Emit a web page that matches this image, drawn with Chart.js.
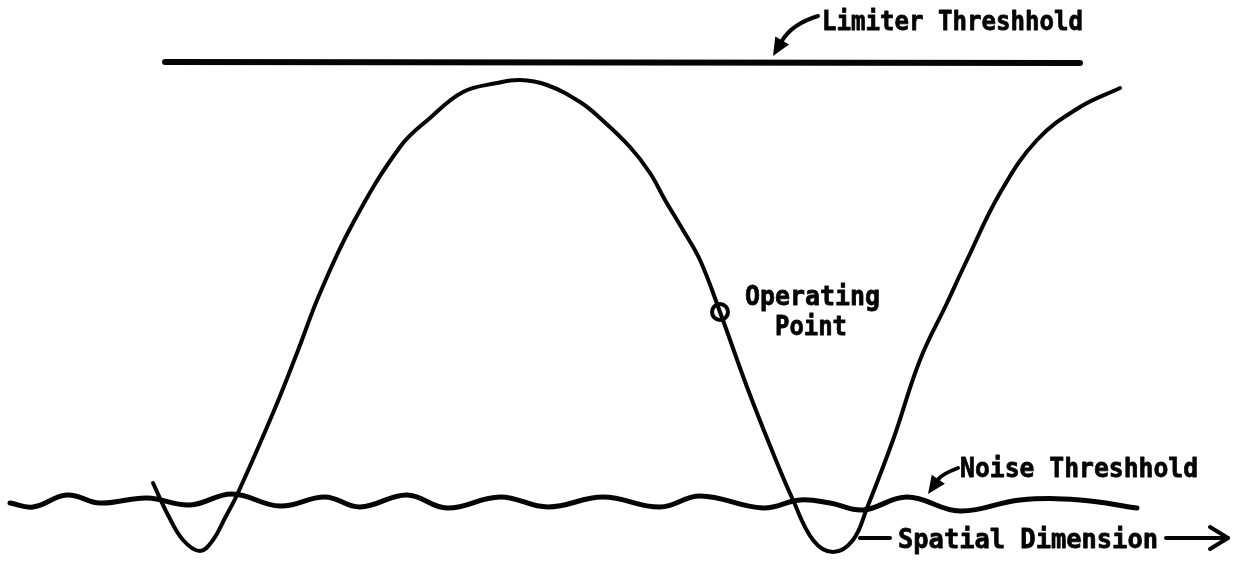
<!DOCTYPE html>
<html>
<head>
<meta charset="utf-8">
<script src="https://cdn.jsdelivr.net/npm/chart.js@4/dist/chart.umd.min.js"></script>
<style>
  html, body { margin: 0; padding: 0; background: #ffffff; }
  #wrap { width: 1240px; height: 561px; position: relative; }
</style>
</head>
<body>
<div id="wrap"><canvas id="c"></canvas></div>
<script>
// Signal response along the spatial dimension (x: spatial position, y: signal level)
const responseX = [15.3, 16.8, 18.3, 20.0, 21.3, 22.5, 23.7, 27.3, 29.7, 32.0, 35.3, 40.0, 43.0, 46.3, 49.7, 52.0,
                   54.7, 58.0, 60.0, 63.0, 65.0, 66.5, 68.3, 70.0, 72.0, 74.7, 77.3, 79.3, 81.3, 83.3, 85.3, 86.7,
                   89.3, 92.0, 94.7, 96.7, 100.0, 103.7, 108.0, 112.0];
const responseY = [1.7, -1.5, -4.0, -5.1, -4.0, -1.8, 0.5, 8.7, 14.7, 20.7, 27.7, 35.3, 38.2, 40.8, 41.7, 42.0,
                   41.5, 39.8, 38.2, 35.3, 32.7, 30.0, 27.0, 24.0, 18.8, 11.3, 4.7, 0.0, -4.0, -5.2, -4.0, -0.8,
                   6.0, 14.0, 19.7, 24.0, 30.7, 36.0, 39.3, 41.2];

// Noise threshold level (wavy)
const noiseX = [1.0, 3.3, 6.7, 10.0, 14.7, 19.0, 23.2, 28.0, 32.5, 36.0, 40.7, 44.7, 50.0, 54.8, 60.3, 66.0,
                70.0, 76.3, 80.0, 83.0, 86.3, 90.7, 96.0, 102.0, 108.0, 113.7];
const noiseY = [-0.3, -0.7, 0.5, -0.3, 0.2, -0.5, 0.6, -0.6, 0.3, -0.7, 0.5, -0.8, 0.3, -0.7, 0.3, -0.7,
                0.4, -0.8, 0.0, -0.3, -1.0, 0.3, -1.1, 0.0, 0.0, -0.8];

// Limiter threshold level
const limiterX = [16.5, 108.0];
const limiterY = [43.8, 43.7];

// Operating point on the falling edge
const operatingX = [72.0];
const operatingY = [18.8];

const ink = '#050505';

function pts(xs, ys) { return xs.map((x, i) => ({ x: x, y: ys[i] })); }

// Text labels and pointer arrows, placed in data units
const labels = [
  { text: 'Limiter Threshhold', x: 82.2, y: 47.0, w: 26.1 },
  { text: 'Operating',          x: 74.5, y: 19.5, w: 13.5 },
  { text: 'Point',              x: 77.5, y: 16.5, w: 7.2 },
  { text: 'Noise Threshhold',   x: 96.0, y: 2.3,  w: 23.8 },
  { text: 'Spatial Dimension',  x: 89.8, y: -4.8, w: 26.0 }
];
const curvedArrows = [
  { from: [81.8, 48.4], ctrl: [79.2, 47.6], tip: [77.3, 44.4] },
  { from: [95.8, 3.2],  ctrl: [94.2, 2.6],  tip: [92.8, 0.6] }
];
const dash = { from: [86.0, -3.8], to: [89.0, -3.8] };
const axisArrow = { from: [116.6, -3.8], to: [122.8, -3.8], headLen: 1.8, headHalf: 1.1 };

const annotate = {
  id: 'annotate',
  afterDatasetsDraw(chart) {
    const ctx = chart.ctx;
    const sx = chart.scales.x, sy = chart.scales.y;
    const X = v => sx.getPixelForValue(v);
    const Y = v => sy.getPixelForValue(v);
    ctx.save();
    ctx.fillStyle = ink;
    ctx.strokeStyle = ink;
    ctx.lineCap = 'round';
    ctx.lineJoin = 'round';

    // labels, fitted to their widths
    ctx.font = 'bold 27px "DejaVu Sans Mono"';
    ctx.textBaseline = 'alphabetic';
    labels.forEach(l => {
      const target = X(l.x + l.w) - X(l.x);
      const m = ctx.measureText(l.text).width;
      ctx.save();
      ctx.translate(X(l.x), Y(l.y));
      ctx.scale(target / m, 1);
      ctx.lineWidth = 0.8;
      ctx.fillText(l.text, 0, 0);
      ctx.strokeText(l.text, 0, 0);
      ctx.restore();
    });

    // curved pointers with filled heads
    ctx.lineWidth = 4;
    curvedArrows.forEach(a => {
      const x0 = X(a.from[0]), y0 = Y(a.from[1]);
      const cx = X(a.ctrl[0]), cy = Y(a.ctrl[1]);
      const tx = X(a.tip[0]), ty = Y(a.tip[1]);
      const ang = Math.atan2(ty - cy, tx - cx);
      const len = 18, half = 8;
      const bx = tx - len * Math.cos(ang), by = ty - len * Math.sin(ang);
      ctx.beginPath();
      ctx.moveTo(x0, y0);
      ctx.quadraticCurveTo(cx, cy, bx, by);
      ctx.stroke();
      ctx.beginPath();
      ctx.moveTo(tx, ty);
      ctx.lineTo(bx + half * Math.sin(ang), by - half * Math.cos(ang));
      ctx.lineTo(bx - half * Math.sin(ang), by + half * Math.cos(ang));
      ctx.closePath();
      ctx.fill();
    });

    // dash before the axis caption
    ctx.beginPath();
    ctx.moveTo(X(dash.from[0]), Y(dash.from[1]));
    ctx.lineTo(X(dash.to[0]), Y(dash.to[1]));
    ctx.stroke();

    // direction arrow after the axis caption
    const ax1 = X(axisArrow.to[0]), ay = Y(axisArrow.to[1]);
    ctx.beginPath();
    ctx.moveTo(X(axisArrow.from[0]), Y(axisArrow.from[1]));
    ctx.lineTo(ax1, ay);
    ctx.stroke();
    const hx = X(axisArrow.to[0] - axisArrow.headLen);
    const hh = Y(axisArrow.to[1] - axisArrow.headHalf) - ay;
    ctx.beginPath();
    ctx.moveTo(hx, ay - hh);
    ctx.lineTo(ax1, ay);
    ctx.lineTo(hx, ay + hh);
    ctx.stroke();
    ctx.restore();
  }
};

new Chart(document.getElementById('c'), {
  type: 'scatter',
  data: {
    datasets: [
      {
        label: 'Limiter Threshhold',
        data: pts(limiterX, limiterY),
        showLine: true,
        borderColor: ink,
        borderWidth: 6,
        borderCapStyle: 'round',
        pointRadius: 0
      },
      {
        label: 'Noise Threshhold',
        data: pts(noiseX, noiseY),
        showLine: true,
        borderColor: ink,
        borderWidth: 5,
        borderCapStyle: 'round',
        tension: 0.4,
        pointRadius: 0
      },
      {
        label: 'Response',
        data: pts(responseX, responseY),
        showLine: true,
        borderColor: ink,
        borderWidth: 4,
        borderCapStyle: 'round',
        tension: 0.4,
        pointRadius: 0
      },
      {
        label: 'Operating Point',
        data: pts(operatingX, operatingY),
        showLine: false,
        pointRadius: 8,
        pointBorderWidth: 4,
        pointBorderColor: ink,
        pointBackgroundColor: 'rgba(255,255,255,0)'
      }
    ]
  },
  options: {
    responsive: true,
    maintainAspectRatio: false,
    animation: false,
    layout: { padding: 0, autoPadding: false },
    plugins: { legend: { display: false }, tooltip: { enabled: false } },
    scales: {
      x: { type: 'linear', min: 0, max: 124, display: false },
      y: { type: 'linear', min: -6.1, max: 50, display: false }
    }
  },
  plugins: [annotate]
});
</script>
</body>
</html>
